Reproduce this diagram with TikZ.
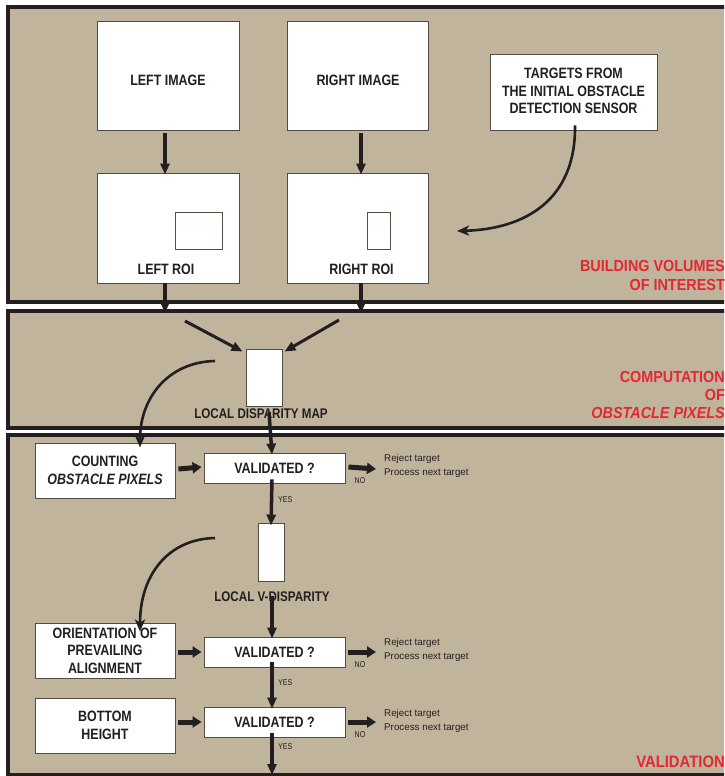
\documentclass[tikz,border=0pt]{standalone}
\usepackage{fontspec}
\setmainfont{Liberation Sans}
\newfontfamily\condfont{Liberation Sans}[FakeStretch=0.83]
\newfontfamily\redfont{Liberation Sans}[FakeStretch=0.9]
\usetikzlibrary{arrows.meta}
\definecolor{tanbg}{RGB}{193,180,157}
\definecolor{redlab}{RGB}{230,38,48}
\definecolor{ink}{RGB}{35,31,32}
\definecolor{boxline}{RGB}{85,75,65}
\begin{document}
\begin{tikzpicture}[x=1pt,y=-1pt,
  panel/.style={draw=ink, line width=4pt, fill=tanbg},
  box/.style={draw=boxline, line width=0.9pt, fill=white, inner sep=0pt},
  lbl/.style={font=\condfont\bfseries\fontsize{15}{17.5}\selectfont, text=ink, align=center, inner sep=0pt},
  smalltxt/.style={font=\fontsize{9.8}{12}\selectfont, text=ink, anchor=west, inner sep=0pt},
  tinytxt/.style={font=\condfont\fontsize{8.5}{10}\selectfont, text=ink, inner sep=0pt},
  sect/.style={font=\redfont\bfseries\fontsize{16}{18}\selectfont, text=redlab, align=right, anchor=east, inner sep=0pt},
  arr/.style={draw=ink, line width=3.5pt, -{Triangle[length=11pt,width=9pt]}},
  harr/.style={draw=ink, line width=5pt, -{Triangle[length=9pt,width=11pt]}},
  carr/.style={draw=ink, line width=2.6pt, -{Stealth[length=12pt,width=10pt,inset=3pt]}}
]
\useasboundingbox (0,0) rectangle (724,776);
\fill[white] (0,0) rectangle (724,776);
\clip (0,0) rectangle (724,776);

% panels
\path[panel] (8,7.5) rectangle (750,301.5);
\path[panel] (8,311) rectangle (750,428);
\path[panel] (8,434.5) rectangle (750,775);

% ---- panel 1 ----
\node[box, minimum width=142pt, minimum height=109pt] (limg) at (168,75.5) {};
\node[box, minimum width=141pt, minimum height=109pt] (rimg) at (357.5,75.5) {};
\node[box, minimum width=167pt, minimum height=76pt] (tgt) at (573.5,92) {};
\node[box, minimum width=142pt, minimum height=110pt] (lroi) at (168,228) {};
\node[box, minimum width=141pt, minimum height=110pt] (rroi) at (357.5,228) {};
\node[box, minimum width=47pt, minimum height=37pt] (linner) at (198.5,230.5) {};
\node[box, minimum width=23pt, minimum height=37pt] (rinner) at (378.5,230.5) {};

\node[lbl] (limgt) at (168,80) {LEFT IMAGE};
\node[lbl] (rimgt) at (358,80) {RIGHT IMAGE};
\node[lbl] (tgtt) at (573.5,91) {TARGETS FROM\\THE INITIAL OBSTACLE\\DETECTION SENSOR};
\node[lbl] (lroit) at (166,269) {LEFT ROI};
\node[lbl] (rroit) at (361.5,269) {RIGHT ROI};
\node[sect] (s1) at (725,275) {BUILDING VOLUMES\\[1pt]OF INTEREST};

\draw[arr] ([xshift=-3pt]limg.south) ++(0,3) -- ([xshift=-3pt,yshift=-2pt]lroi.north);
\draw[arr] ([xshift=3.5pt]rimg.south) ++(0,3) -- ([xshift=3.5pt,yshift=-2pt]rroi.north);
\coordinate (tgtend) at (457,231);
\draw[carr] ([xshift=1.5pt,yshift=5pt]tgt.south) .. controls (576,200) and (525,229) .. (tgtend);

\coordinate (lroiend) at (165,313);
\coordinate (rroiend) at (361,313);
\draw[arr] ([xshift=-3pt]lroi.south) -- (lroiend);
\draw[arr] ([xshift=3.5pt]rroi.south) -- (rroiend);

% ---- panel 2 ----
\node[box, minimum width=36pt, minimum height=57pt] (dmap) at (264,377.5) {};
\node[lbl, font=\condfont\bfseries\fontsize{14}{16}\selectfont] (dmapt) at (261,414) {LOCAL DISPARITY MAP};
\node[sect] (s2) at (725,395) {COMPUTATION\\OF\\\itshape OBSTACLE PIXELS};

\coordinate (d1) at (185,321);
\coordinate (d2) at (339,320);
\draw[arr, line width=3pt] (d1) -- ([xshift=-3pt,yshift=-3pt]dmap.north west);
\draw[arr, line width=3pt] (d2) -- ([xshift=2pt,yshift=-3pt]dmap.north east);

% ---- panel 3 ----
\node[box, minimum width=140pt, minimum height=55pt] (count) at (105,470.5) {};
\node[lbl] (countt) at (105,470.5) {COUNTING\\\itshape OBSTACLE PIXELS};
\node[box, lbl, minimum width=141pt, minimum height=30pt] (v1) at (274.5,468) {VALIDATED ?};
\node[box, minimum width=26pt, minimum height=58pt] (vdisp) at (271,552) {};
\node[lbl, font=\condfont\bfseries\fontsize{14}{16}\selectfont] (vdispt) at (272,597) {LOCAL V-DISPARITY};
\node[box, minimum width=140pt, minimum height=55pt] (orient) at (105,650.5) {};
\node[lbl] (orientt) at (105,650.5) {ORIENTATION OF\\PREVAILING\\ALIGNMENT};
\node[box, lbl, minimum width=141pt, minimum height=30pt] (v2) at (274.5,652) {VALIDATED ?};
\node[box, minimum width=140pt, minimum height=55pt] (bottom) at (105,725.5) {};
\node[lbl] (bottomt) at (105,725.5) {BOTTOM\\HEIGHT};
\node[box, lbl, minimum width=141pt, minimum height=30pt] (v3) at (274.5,722) {VALIDATED ?};
\node[sect, font=\redfont\bfseries\fontsize{16.5}{18}\selectfont] (s3) at (725,762) {VALIDATION};

% disparity map curve and arrows
\coordinate (c1s) at (215,361);
\draw[carr] (c1s) .. controls (168,362) and (140,398) .. ([xshift=35pt,yshift=-5pt]count.north);
\draw[arr] ([xshift=8pt,yshift=7pt]dmapt.south) -- ([xshift=-2.5pt,yshift=-2pt]v1.north);

\coordinate (c2s) at (215,538);
\draw[carr] (c2s) .. controls (168,539) and (140,575) .. ([xshift=35pt,yshift=-9pt]orient.north);
\draw[arr] ([yshift=6pt]vdispt.south) -- ([xshift=-2.5pt,yshift=-2pt]v2.north);

% horizontal arrows
\draw[harr] (count.east |- v1.west) ++(3,1) -- ([xshift=-2pt,yshift=1pt]v1.west);
\draw[harr] (orient.east |- v2.west) ++(3,0) -- ([xshift=-2pt]v2.west);
\draw[harr] (bottom.east |- v3.west) ++(3,0) -- ([xshift=-2pt]v3.west);

\coordinate (n1) at (376,469);
\coordinate (n2) at (376,652);
\coordinate (n3) at (376,722);
\draw[harr] ([xshift=3pt,yshift=1pt]v1.east) -- (n1);
\draw[harr] ([xshift=3pt]v2.east) -- (n2);
\draw[harr] ([xshift=3pt]v3.east) -- (n3);

\node[tinytxt] (no1) at (360,481) {NO};
\node[tinytxt] (no2) at (360,665) {NO};
\node[tinytxt] (no3) at (360,735) {NO};
\node[smalltxt] (r1a) at (384,459) {Reject target};
\node[smalltxt] (r1b) at (384,473) {Process next target};
\node[smalltxt] (r2a) at (384,643) {Reject target};
\node[smalltxt] (r2b) at (384,657) {Process next target};
\node[smalltxt] (r3a) at (384,714) {Reject target};
\node[smalltxt] (r3b) at (384,728) {Process next target};

% yes arrows
\draw[arr] ([xshift=-2.5pt,yshift=4pt]v1.south) -- ([yshift=-3pt]vdisp.north);
\draw[arr] ([xshift=-2.5pt,yshift=5pt]v2.south) -- ([xshift=-2.5pt,yshift=-2pt]v3.north);
\coordinate (yend) at (272,775);
\draw[arr] ([xshift=-2.5pt,yshift=4pt]v3.south) -- (yend);
\node[tinytxt, anchor=west] (y1) at (278,500) {YES};
\node[tinytxt, anchor=west] (y2) at (278,683) {YES};
\node[tinytxt, anchor=west] (y3) at (278,747) {YES};
\end{tikzpicture}
\end{document}
